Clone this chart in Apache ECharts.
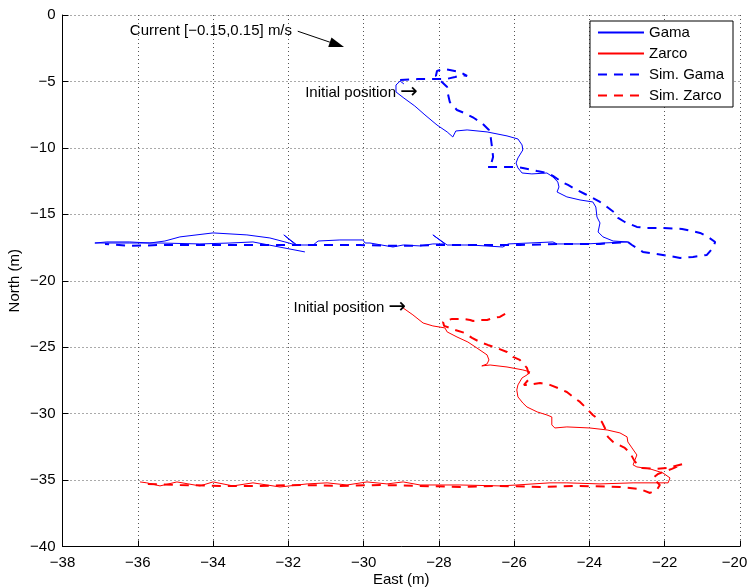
<!DOCTYPE html>
<html><head><meta charset="utf-8">
<script src="https://cdn.jsdelivr.net/npm/echarts@6/dist/echarts.min.js"></script>
<style>html,body{margin:0;padding:0;background:#fff}#c{width:748px;height:588px}</style>
</head><body><div id="c"></div>
<script>
// ---- data (East m, North m) ----
const seriesNames = ['Gama', 'Zarco', 'Sim. Gama', 'Sim. Zarco'];

const gama = [
  [-28.93,-5.19],[-29.03,-4.97],[-29.14,-5.27],[-29.14,-5.79],[-28.93,-6.25],[-28.64,-6.85],
  [-28.37,-7.52],[-28.05,-8.28],[-27.78,-8.80],[-27.63,-9.18],[-27.55,-8.73],[-27.25,-8.65],
  [-26.72,-8.80],[-26.19,-9.10],[-25.90,-9.33],[-25.79,-9.78],[-25.77,-10.16],[-25.90,-10.76],
  [-25.95,-11.14],[-25.90,-11.51],[-25.79,-11.89],[-25.53,-11.96],[-25.13,-11.89],[-24.97,-12.19],
  [-24.84,-12.57],[-24.81,-12.94],[-24.86,-13.32],[-24.60,-13.69],[-24.25,-13.92],[-23.91,-14.07],
  [-23.83,-14.45],[-23.80,-15.20],[-23.72,-15.65],[-23.77,-16.33],[-23.64,-16.70],[-23.37,-17.01],
  [-22.98,-17.08],[-23.64,-17.16],[-24.07,-17.23],[-24.86,-17.23],[-24.97,-17.08],[-26.16,-17.23],
  [-26.30,-17.46],[-27.17,-17.31],[-27.78,-17.31],[-28.16,-16.55],[-27.84,-17.23],[-28.16,-17.23],
  [-28.50,-17.38],[-28.95,-17.31],[-29.22,-17.46],[-29.83,-17.16],[-29.96,-17.16],[-30.02,-16.93],
  [-30.63,-16.93],[-31.21,-17.01],[-31.34,-17.31],[-31.77,-17.31],[-32.12,-16.55],[-31.80,-17.31],
  [-32.09,-17.08],[-32.49,-16.78],[-33.10,-16.55],[-34.00,-16.40],[-34.88,-16.70],[-35.28,-17.01],
  [-35.68,-17.16],[-36.21,-17.08],[-36.82,-17.08],[-37.14,-17.16],[-36.82,-17.16],[-36.21,-17.16],
  [-35.41,-17.16],[-34.35,-17.23],[-33.55,-17.16],[-32.94,-17.08],[-31.56,-17.83]
];

const zarco = [
  [-28.95,-22.05],[-28.90,-22.20],[-28.69,-22.57],[-28.42,-23.18],[-28.16,-23.40],[-27.84,-23.55],
  [-27.78,-23.85],[-27.52,-24.23],[-27.23,-24.61],[-26.99,-25.06],[-26.72,-25.58],[-26.67,-25.96],
  [-26.72,-26.26],[-26.86,-26.41],[-26.64,-26.34],[-26.19,-26.49],[-25.77,-26.71],[-25.58,-26.86],
  [-25.66,-27.09],[-25.79,-27.31],[-25.90,-27.84],[-25.93,-28.22],[-25.90,-28.74],[-25.77,-29.20],
  [-25.66,-29.50],[-25.39,-29.87],[-25.13,-30.10],[-25.00,-30.25],[-25.00,-30.85],[-24.92,-31.08],
  [-24.60,-31.00],[-23.99,-31.08],[-23.53,-31.23],[-23.19,-31.45],[-23.00,-31.75],[-22.98,-32.13],
  [-22.87,-32.58],[-22.74,-33.11],[-22.79,-33.48],[-22.84,-33.86],[-22.74,-34.01],[-22.39,-34.16],
  [-22.05,-34.46],[-21.86,-34.84],[-21.91,-35.21],[-22.84,-35.21],[-23.72,-35.29],[-24.60,-35.21],
  [-25.05,-35.21],[-25.50,-35.29],[-25.93,-35.37],[-26.38,-35.44],[-27.44,-35.37],[-28.50,-35.37],
  [-28.95,-35.14],[-29.38,-35.29],[-29.91,-35.14],[-30.44,-35.37],[-30.97,-35.21],[-31.50,-35.29],
  [-32.22,-35.52],[-32.94,-35.21],[-33.47,-35.44],[-34.00,-35.14],[-34.35,-35.44],[-34.96,-35.14],
  [-35.41,-35.44],[-35.76,-35.21],[-35.94,-35.14]
];

const simGama = [
  [-29.03,-4.89],[-28.56,-4.82],[-28.10,-4.82],[-27.81,-4.82],[-27.57,-4.67],[-27.39,-4.51],
  [-27.25,-4.59],[-27.44,-4.29],[-27.71,-4.14],[-27.89,-4.06],[-28.05,-4.21],[-28.08,-4.59],
  [-27.92,-5.04],[-27.78,-5.42],[-27.76,-5.94],[-27.71,-6.55],[-27.52,-7.15],[-27.33,-7.37],
  [-27.07,-7.75],[-26.86,-8.13],[-26.67,-8.65],[-26.62,-9.26],[-26.59,-9.93],[-26.56,-10.68],
  [-26.62,-11.29],[-26.70,-11.44],[-26.19,-11.44],[-25.93,-11.44],[-25.77,-11.51],[-25.39,-11.74],
  [-25.13,-11.89],[-24.97,-12.11],[-24.73,-12.57],[-24.57,-12.79],[-24.33,-13.17],[-24.12,-13.47],
  [-23.91,-13.77],[-23.72,-14.07],[-23.53,-14.45],[-23.32,-14.90],[-23.24,-15.27],[-23.06,-15.58],
  [-22.74,-15.95],[-22.47,-16.03],[-22.05,-16.03],[-21.54,-16.10],[-21.28,-16.25],[-21.06,-16.40],
  [-20.85,-16.70],[-20.66,-17.08],[-20.72,-17.53],[-20.88,-18.06],[-21.25,-18.21],[-21.59,-18.28],
  [-22.05,-18.06],[-22.58,-17.83],[-22.87,-17.31],[-22.98,-17.08],[-23.72,-17.23],[-24.78,-17.23],
  [-25.85,-17.31],[-26.91,-17.31],[-27.97,-17.31],[-29.03,-17.38],[-30.10,-17.31],[-31.16,-17.31],
  [-32.22,-17.31],[-33.28,-17.31],[-34.35,-17.31],[-35.41,-17.31],[-36.21,-17.38],[-36.87,-17.23]
];

const simZarco = [
  [-26.24,-22.50],[-26.38,-22.72],[-26.56,-22.80],[-26.72,-22.95],[-26.91,-22.95],[-27.09,-23.03],
  [-27.17,-22.95],[-27.39,-22.87],[-27.65,-22.87],[-27.89,-23.10],[-27.86,-23.40],[-27.57,-23.70],
  [-27.31,-23.93],[-27.12,-24.30],[-26.91,-24.61],[-26.70,-24.83],[-26.46,-25.06],[-26.19,-25.36],
  [-26.03,-25.73],[-25.85,-25.96],[-25.66,-26.56],[-25.58,-27.31],[-25.74,-27.84],[-25.63,-27.84],
  [-25.31,-27.69],[-25.05,-27.84],[-24.84,-28.07],[-24.60,-28.37],[-24.44,-28.74],[-24.25,-29.12],
  [-24.04,-29.72],[-23.91,-30.10],[-23.67,-30.62],[-23.59,-31.08],[-23.51,-31.75],[-23.37,-32.13],
  [-23.06,-32.58],[-22.92,-32.96],[-22.79,-33.63],[-22.60,-34.09],[-22.26,-34.16],[-21.91,-34.09],
  [-21.52,-33.79],[-21.81,-34.16],[-22.18,-34.54],[-22.31,-34.84],[-22.13,-35.37],[-22.21,-35.74],
  [-22.39,-35.97],[-22.66,-35.67],[-23.19,-35.52],[-24.25,-35.44],[-25.31,-35.52],[-26.38,-35.44],
  [-27.44,-35.52],[-28.50,-35.44],[-29.56,-35.37],[-30.63,-35.44],[-31.69,-35.37],[-32.75,-35.44],
  [-33.82,-35.44],[-34.88,-35.37],[-35.81,-35.29]
];

// annotation texts and anchors (data coords)
const noteTexts = ['Current [\u22120.15,0.15] m/s', 'Initial position {a|\u2192}', 'Initial position {a|\u2192}'];
const noteAnchors = [[-36.21,-1.20], [-28.56,-5.87], [-28.87,-22.05]];
const noteAlign = ['left', 'right', 'right'];
const currentArrow = [[-31.75,-1.22], [-30.52,-2.41]];

const FONT = '"Liberation Sans", Arial, Helvetica, sans-serif';
const minus = v => String(v).replace('-', '\u2212');
const X_MAX = -20;

const chart = echarts.init(document.getElementById('c'), null, {renderer: 'canvas'});
const BLUE = '#0000ff', RED = '#ff0000';
function lineSeries(name, data, color, dashed) {
  return {
    type: 'line', name, data, symbol: 'none', showSymbol: false, animation: false,
    silent: true,
    lineStyle: {color, width: dashed ? 2 : 1, type: dashed ? [9, 7] : 'solid'},
    itemStyle: {color}
  };
}
chart.setOption({
  backgroundColor: '#fff',
  animation: false,
  textStyle: {fontFamily: FONT},
  grid: {left: 62.5, right: 8, top: 15, bottom: 41.5, containLabel: false, outerBoundsMode: 'none'},
  xAxis: {
    type: 'value', min: -38, max: X_MAX, interval: 2,
    name: 'East (m)', nameLocation: 'middle', nameGap: 26, nameMoveOverlap: false,
    nameTextStyle: {fontSize: 15, color: '#000', fontFamily: FONT},
    axisLine: {show: true, onZero: false, lineStyle: {color: '#000', width: 1}},
    axisTick: {show: true, inside: true, length: 6, lineStyle: {color: '#000'}},
    axisLabel: {fontSize: 15, color: '#000', margin: 9, fontFamily: FONT,
                formatter: v => v === X_MAX ? '{m|' + minus(v) + '}' : minus(v),
                rich: {m: {fontSize: 15, color: '#000', fontFamily: FONT, padding: [0, 11, 0, 0]}},
                showMinLabel: true, showMaxLabel: true},
    splitLine: {show: true, lineStyle: {color: '#555', type: [1, 3], width: 1}}
  },
  yAxis: {
    type: 'value', min: -40, max: 0, interval: 5,
    name: 'North (m)', nameLocation: 'middle', nameGap: 40, nameMoveOverlap: false,
    nameTextStyle: {fontSize: 15, color: '#000', fontFamily: FONT},
    axisLine: {show: true, onZero: false, lineStyle: {color: '#000', width: 1}},
    axisTick: {show: true, inside: true, length: 6, lineStyle: {color: '#000'}},
    axisLabel: {fontSize: 15, color: '#000', margin: 7, formatter: minus, fontFamily: FONT,
                showMinLabel: true, showMaxLabel: true},
    splitLine: {show: true, lineStyle: {color: '#555', type: [1, 3], width: 1}}
  },
  legend: {
    orient: 'vertical', right: 15, top: 21,
    itemWidth: 46, itemHeight: 14, itemGap: 6,
    padding: [4, 9, 4, 7],
    backgroundColor: '#fff', borderColor: '#000', borderWidth: 1, borderRadius: 0,
    itemStyle: {opacity: 0},
    textStyle: {fontSize: 15, lineHeight: 14, color: '#000', fontFamily: FONT},
    data: seriesNames
  },
  series: [
    lineSeries(seriesNames[0], gama, BLUE, false),
    lineSeries(seriesNames[1], zarco, RED, false),
    lineSeries(seriesNames[2], simGama, BLUE, true),
    lineSeries(seriesNames[3], simZarco, RED, true)
  ]
});

// annotations
const px = p => chart.convertToPixel({gridIndex: 0}, p);
const graphics = noteTexts.map((t, i) => {
  const p = px(noteAnchors[i]);
  return {type: 'text', silent: true, z: 50,
    style: {text: t, x: p[0], y: p[1], fill: '#000', font: '15px ' + FONT,
            align: noteAlign[i], verticalAlign: 'middle',
            rich: {a: {fontSize: 21, fontFamily: '"DejaVu Sans", sans-serif', fill: '#000'}}}};
});
const a0 = px(currentArrow[0]), a1 = px(currentArrow[1]);
const ang = Math.atan2(a1[1] - a0[1], a1[0] - a0[0]);
const L = 15, W = 5;
const bx = a1[0] - L * Math.cos(ang), by = a1[1] - L * Math.sin(ang);
graphics.push({type: 'line', silent: true, z: 50,
  shape: {x1: a0[0], y1: a0[1], x2: bx, y2: by}, style: {stroke: '#000', lineWidth: 1}});
graphics.push({type: 'polygon', silent: true, z: 50,
  shape: {points: [[a1[0], a1[1]],
    [bx - W * Math.sin(ang), by + W * Math.cos(ang)],
    [bx + W * Math.sin(ang), by - W * Math.cos(ang)]]},
  style: {fill: '#000'}});
chart.setOption({graphic: graphics});
</script></body></html>
